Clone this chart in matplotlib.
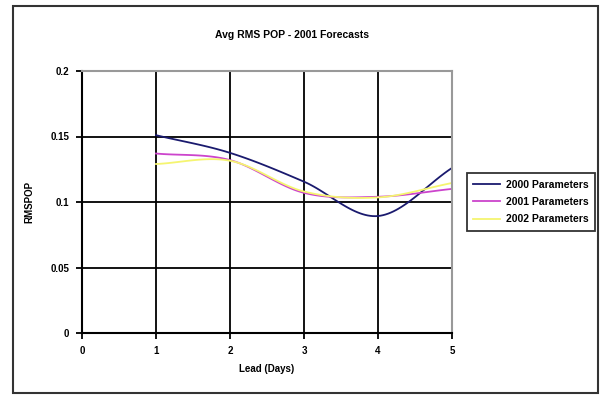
import numpy as np
import matplotlib.pyplot as plt
from matplotlib.patches import Rectangle

# datos (lead days vs RMS POP)
lead = [1, 2, 3, 4, 5]
p2000 = [0.151, 0.1375, 0.1155, 0.0893, 0.126]
p2001 = [0.137, 0.132, 0.107, 0.104, 0.110]
p2002 = [0.129, 0.1315, 0.108, 0.1035, 0.1145]
names = ['2000 Parameters', '2001 Parameters', '2002 Parameters']
colors = ['#1a1a6e', '#cc44cc', '#f5f570']


def smooth(x, y, n=30):
    # curva suavizada tipo Excel (Catmull-Rom) que pasa por los puntos
    x = np.asarray(x, float)
    y = np.asarray(y, float)
    px = np.concatenate([[2*x[0]-x[1]], x, [2*x[-1]-x[-2]]])
    py = np.concatenate([[2*y[0]-y[1]], y, [2*y[-1]-y[-2]]])
    xs, ys = [], []
    t = np.linspace(0, 1, n)
    for i in range(1, len(px)-2):
        for p, out in ((px, xs), (py, ys)):
            p0, p1, p2, p3 = p[i-1], p[i], p[i+1], p[i+2]
            out.extend(0.5*((2*p1) + (-p0+p2)*t + (2*p0-5*p1+4*p2-p3)*t**2
                            + (-p0+3*p1-3*p2+p3)*t**3))
    return xs, ys


plt.rcParams['font.family'] = ['Liberation Sans', 'DejaVu Sans']
fig = plt.figure(figsize=(6, 3.96), dpi=100)
fig.patches.append(Rectangle((13/600, 3/396), 585/600, 387/396, transform=fig.transFigure,
                             fill=False, edgecolor='#333333', lw=1.5))

ax = fig.add_axes([82/600, 1-333/396, 370/600, 262/396])
for serie, c, nm in zip([p2000, p2001, p2002], colors, names):
    xs, ys = smooth(lead, serie)
    ax.plot(xs, ys, color=c, lw=1.3, label=nm)

ax.set_xlim(0, 5)
ax.set_ylim(0, 0.2)
ax.set_xticks([0, 1, 2, 3, 4, 5])
ax.set_yticks([0, 0.05, 0.1, 0.15, 0.2])
ax.set_yticklabels(['0', '0.05', '0.1', '0.15', '0.2'])
ax.grid(True, color='black', lw=1.3)
ax.set_axisbelow(True)
ax.tick_params(labelsize=7, length=4, width=1.3, color='black', pad=5)
for lab in ax.get_xticklabels() + ax.get_yticklabels():
    lab.set_fontweight('bold')
ax.spines['left'].set_linewidth(1.5)
ax.spines['bottom'].set_linewidth(1.5)
for s in ('top', 'right'):
    ax.spines[s].set_color('#999999')
    ax.spines[s].set_linewidth(1.5)

ax.set_xlabel('Lead (Days)', fontsize=7, fontweight='bold', labelpad=6)
ax.set_ylabel('RMSPOP', fontsize=7, fontweight='bold', labelpad=12)
fig.text(292/600, 1-35/396, 'Avg RMS POP - 2001 Forecasts', ha='center', va='center',
         fontsize=7.5, fontweight='bold')

leg = fig.legend(loc='center', bbox_to_anchor=(531/600, 1-202/396),
                 prop={'weight': 'bold', 'size': 7.5}, frameon=True, fancybox=False,
                 edgecolor='black', handlelength=2.6, handletextpad=0.6,
                 borderpad=0.6, labelspacing=0.7, borderaxespad=0)
leg.get_frame().set_linewidth(1.3)

plt.savefig('out.png', dpi=100)
